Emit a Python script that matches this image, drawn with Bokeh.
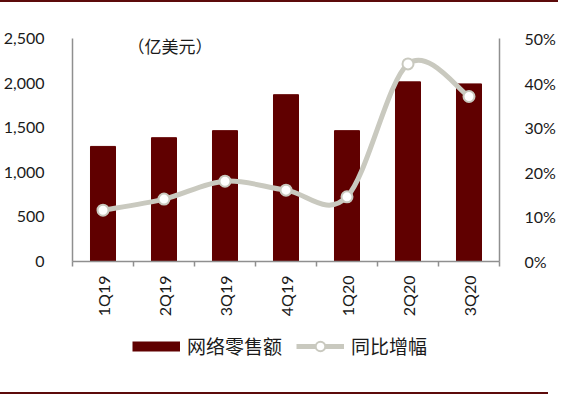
import math
from bokeh.plotting import figure
from bokeh.layouts import column
from bokeh.models import (Range1d, LinearAxis, FixedTicker, NumeralTickFormatter,
                          CustomJSTickFormatter, Legend, LegendItem, Label,
                          ColumnDataSource)
from bokeh.embed import file_html
from bokeh.resources import INLINE

# ---- data ----
quarters = ["1Q19", "2Q19", "3Q19", "4Q19", "1Q20", "2Q20", "3Q20"]
sales = [1290, 1388, 1467, 1870, 1467, 2014, 1991]          # 亿美元
growth = [0.115, 0.140, 0.180, 0.160, 0.145, 0.443, 0.370]  # 同比增幅
left_ticks = [0, 500, 1000, 1500, 2000, 2500]
right_ticks = [0, 0.1, 0.2, 0.3, 0.4, 0.5]

BAR = "#600000"
LINE = "#c9c9bf"
AXIS = "#8f8f8f"
RULE = "#5c0a0a"
NUM_FONT = "Lato"
CJK_FONT = "Noto Sans CJK SC"

xs = [i + 0.5 for i in range(len(quarters))]

p = figure(output_backend="svg", toolbar_location=None,
           x_range=Range1d(0, len(quarters)), y_range=Range1d(0, 2500),
           frame_width=427, frame_height=221,
           min_border_left=64, min_border_right=57, min_border_top=36, min_border_bottom=63)
p.xgrid.visible = False
p.ygrid.visible = False
p.outline_line_color = None
p.background_fill_color = "white"
p.border_fill_color = "white"
p.extra_y_ranges = {"pct": Range1d(0, 0.5)}
p.styles = {"border-top": f"2px solid {RULE}"}

# bars
src = ColumnDataSource(dict(x=xs, sales=sales, growth=growth))
bars = p.vbar(x="x", top="sales", width=0.41, source=src, fill_color=BAR, line_color=BAR)

# smooth line (Excel-style Catmull-Rom bezier) through the growth points
n = len(xs)
def pt(i):
    i = max(0, min(n - 1, i))
    return xs[i], growth[i]
bx0, by0, bx1, by1, cx0, cy0, cx1, cy1 = [], [], [], [], [], [], [], []
for i in range(n - 1):
    p0, p1, p2_, p3 = pt(i - 1), pt(i), pt(i + 1), pt(i + 2)
    bx0.append(p1[0]); by0.append(p1[1]); bx1.append(p2_[0]); by1.append(p2_[1])
    cx0.append(p1[0] + (p2_[0] - p0[0]) / 6); cy0.append(p1[1] + (p2_[1] - p0[1]) / 6)
    cx1.append(p2_[0] - (p3[0] - p1[0]) / 6); cy1.append(p2_[1] - (p3[1] - p1[1]) / 6)
curve = p.bezier(x0=bx0, y0=by0, x1=bx1, y1=by1, cx0=cx0, cy0=cy0, cx1=cx1, cy1=cy1,
                 line_color=LINE, line_width=5, y_range_name="pct")
dots = p.scatter(x="x", y="growth", source=src, size=11, marker="circle",
                 fill_color="white", line_color=LINE, line_width=2, y_range_name="pct")

# axes
la = p.yaxis[0]
la.ticker = FixedTicker(ticks=left_ticks)
la.formatter = NumeralTickFormatter(format="0,0")
ra = LinearAxis(y_range_name="pct", ticker=FixedTicker(ticks=right_ticks),
                formatter=NumeralTickFormatter(format="0%"))
p.add_layout(ra, "right")
for ax in (la, ra):
    ax.major_tick_line_color = None
    ax.minor_tick_line_color = None
    ax.axis_line_color = AXIS
    ax.axis_line_width = 1.5
    ax.major_label_text_font = NUM_FONT
    ax.major_label_text_font_size = "16px"
    ax.major_label_text_color = "#1a1a1a"
la.major_label_standoff = 22
ra.major_label_standoff = 19

xa = p.xaxis[0]
xa.ticker = FixedTicker(ticks=xs, minor_ticks=list(range(len(quarters) + 1)))
xa.formatter = CustomJSTickFormatter(args=dict(labels=quarters),
                                     code="return labels[Math.floor(tick)]")
xa.major_tick_line_color = None
xa.major_tick_out = 0
xa.minor_tick_line_color = AXIS
xa.minor_tick_out = 5
xa.minor_tick_in = 0
xa.minor_tick_line_width = 1.5
xa.axis_line_color = AXIS
xa.axis_line_width = 1.5
xa.major_label_orientation = math.pi / 2
xa.major_label_standoff = 9
xa.major_label_text_font = NUM_FONT
xa.major_label_text_font_size = "16px"
xa.major_label_text_color = "#1a1a1a"

# unit annotation
p.add_layout(Label(x=1.6, y=2420, text="（亿美元）", text_align="center", text_baseline="middle",
                   text_font=CJK_FONT, text_font_size="17px", text_color="#1a1a1a"))

# ---- legend strip below the chart ----
pl = figure(output_backend="svg", toolbar_location=None,
            x_range=Range1d(-100, -99), y_range=Range1d(-100, -99),
            frame_width=548, frame_height=70, min_border=0,
            x_axis_location=None, y_axis_location=None)
pl.xgrid.visible = False
pl.ygrid.visible = False
pl.outline_line_color = None
pl.border_fill_color = "white"
pl.styles = {"border-bottom": f"2px solid {RULE}"}

# hidden proxies carrying the series (outside the strip's range), used only for legend keys
bar_key = pl.line(x=xs, y=sales, line_color=BAR, line_width=10)
line_key = pl.line(x=xs, y=growth, line_color=LINE, line_width=5)
dot_key = pl.scatter(x=xs, y=growth, marker="circle", fill_color="white",
                     line_color=LINE, line_width=2)

leg = Legend(items=[LegendItem(label="网络零售额", renderers=[bar_key]),
                    LegendItem(label="同比增幅", renderers=[line_key, dot_key])],
             orientation="horizontal", location=(132, 35), margin=0,
             glyph_width=48, glyph_height=24, label_standoff=7, spacing=14,
             padding=0, border_line_color=None, background_fill_alpha=0,
             label_text_font=CJK_FONT, label_text_font_size="19px", label_text_color="#1a1a1a")
pl.add_layout(leg, "center")

layout = column(p, pl, spacing=0)
open("out.html", "w").write(file_html(layout, INLINE))
